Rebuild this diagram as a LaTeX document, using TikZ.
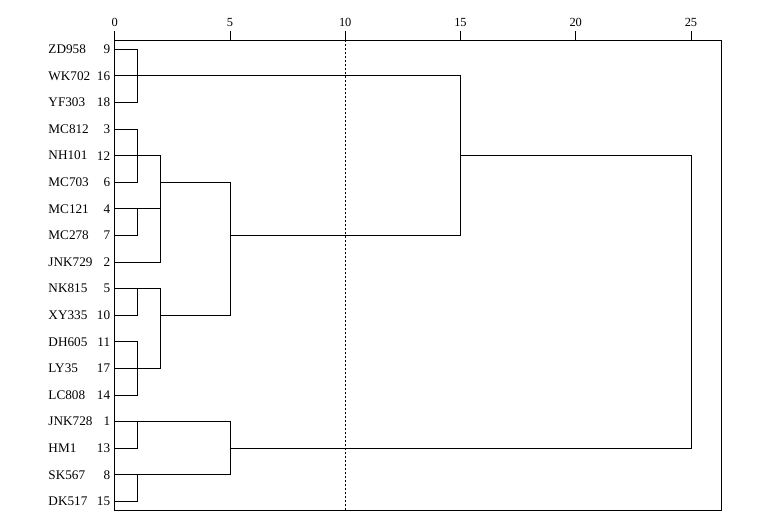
\documentclass[tikz,border=0pt]{standalone}
\usepackage{fontspec}
\setmainfont{Liberation Serif}
\begin{document}
\begin{tikzpicture}[x=1pt,y=-1pt,
  ln/.style={line width=0.9pt,line cap=rect},
  frm/.style={line width=0.9pt},
  cut/.style={line width=0.9pt,dash pattern=on 2pt off 2pt},
  leafname/.style={anchor=west,inner sep=0pt,font=\fontsize{13.2}{15}\selectfont},
  leafnum/.style={anchor=east,inner sep=0pt,font=\fontsize{13.2}{15}\selectfont},
  ticklab/.style={inner sep=0pt,font=\fontsize{12.4}{14}\selectfont}]
\useasboundingbox (0,0) rectangle (764,528);
\fill[white] (0,0) rectangle (764,528);
% frame and axis
\coordinate (tl) at (114.7,40.3);
\coordinate (br) at (721.7,510.3);
\draw[frm] (tl) rectangle (br);
\foreach \v in {0,5,10,15,20,25}{
  \coordinate (t\v) at ({114.7+23.05*\v},40.3);
  \coordinate (tt\v) at ({114.7+23.05*\v},30.5);
  \draw[frm] (t\v) -- (tt\v);
  \node[ticklab] (tl\v) at ({114.7+23.05*\v},22.8) {\v};
}
\coordinate (v1) at ({114.7+23.05*1},40.3);
\coordinate (v2) at ({114.7+23.05*2},40.3);
\coordinate (v5) at (t5);
\coordinate (v15) at (t15);
\coordinate (v25) at (t25);
\coordinate (b10) at (t10 |- br);
\draw[cut] (t10) -- (b10);
% leaves
\foreach \i/\nm/\nu in {1/ZD958/9,2/WK702/16,3/YF303/18,4/MC812/3,5/NH101/12,6/MC703/6,
  7/MC121/4,8/MC278/7,9/JNK729/2,10/NK815/5,11/XY335/10,12/DH605/11,13/LY35/17,
  14/LC808/14,15/JNK728/1,16/HM1/13,17/SK567/8,18/DK517/15}{
  \node[leafname] (n\i) at (48.3,{49.3+26.59*(\i-1)}) {\nm};
  \node[leafnum] (m\i) at (110.3,{49.3+26.59*(\i-1)}) {\nu};
  \coordinate (r\i) at (114.7,{49.3+26.59*(\i-1)});
}
% top group
\draw[ln] (r1) -- (r1-|v1) -- (r3-|v1) -- (r3);
\draw[ln] (r2) -- (r2-|v15) -- (r8-|v15);
% middle group A
\draw[ln] (r4) -- (r4-|v1) -- (r6-|v1) -- (r6);
\draw[ln] (r5) -- (r5-|v2) -- (r9-|v2) -- (r9);
\draw[ln] (r7) -- (r7-|v2);
\draw[ln] (r7-|v1) -- (r8-|v1) -- (r8);
\draw[ln] (r6-|v2) -- (r6-|v5) -- (r11-|v5);
% middle group B
\draw[ln] (r10) -- (r10-|v2) -- (r13-|v2);
\draw[ln] (r10-|v1) -- (r11-|v1) -- (r11);
\draw[ln] (r11-|v2) -- (r11-|v5);
\draw[ln] (r12) -- (r12-|v1) -- (r14-|v1) -- (r14);
\draw[ln] (r13) -- (r13-|v2);
\draw[ln] (r8-|v5) -- (r8-|v15);
% joins to 25
\draw[ln] (r5-|v15) -- (r5-|v25) -- (r16-|v25);
% bottom group
\draw[ln] (r15) -- (r15-|v5) -- (r17-|v5) -- (r17);
\draw[ln] (r15-|v1) -- (r16-|v1) -- (r16);
\draw[ln] (r17-|v1) -- (r18-|v1) -- (r18);
\draw[ln] (r16-|v5) -- (r16-|v25);
\end{tikzpicture}
\end{document}
